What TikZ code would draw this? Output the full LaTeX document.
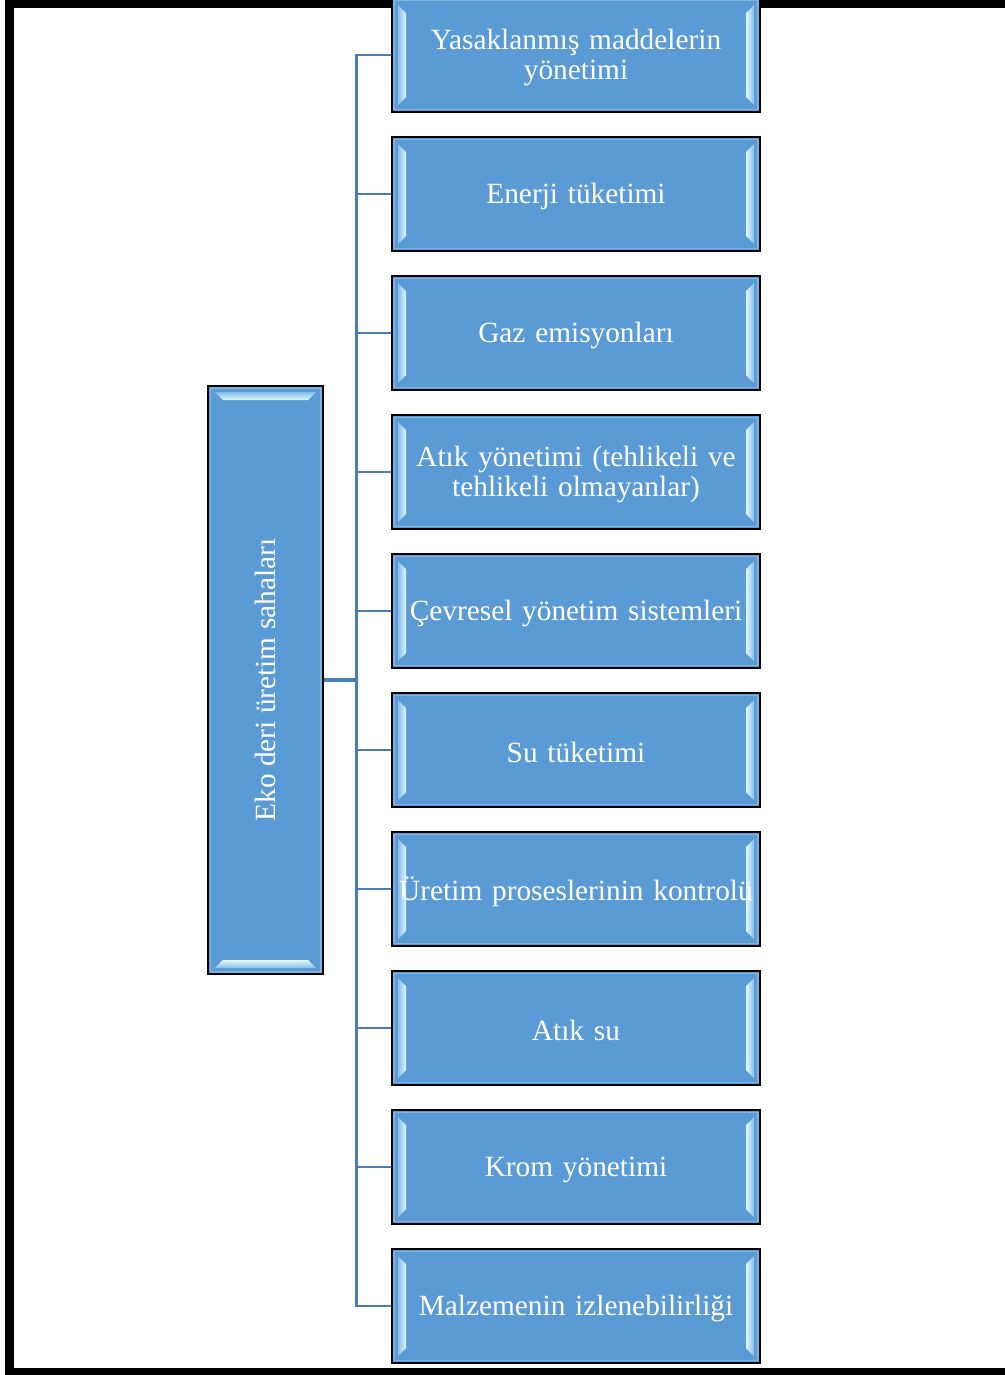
\documentclass[tikz,border=0pt]{standalone}
\usepackage{fontspec}
\setmainfont{Liberation Serif}
\usetikzlibrary{calc}

\definecolor{boxblue}{HTML}{5B9BD5}
\definecolor{linkblue}{HTML}{4A7DB4}
\definecolor{shine}{HTML}{E2F8FF}
\definecolor{shinelow}{HTML}{86BCE8}
\definecolor{rimblue}{HTML}{7FB3E2}

\tikzset{
  % one unit = one pixel, y grows downwards
  x=0.75pt, y=-0.75pt,
  frameline/.style={line width=6.6pt, black},
  link/.style={draw=linkblue, line width=2.2pt},
  hublink/.style={draw=linkblue, line width=3pt},
  boxtext/.style={text=white, inner sep=0pt, align=center,
    font=\fontsize{22}{22.5}\selectfont},
  bevelbox/.style={draw=black, line width=1.3pt, fill=boxblue, inner sep=0pt},
  % a horizontal box: its caption sits slightly below the centre
  topic/.style={bevelbox, minimum width=276pt, minimum height=85pt,
    label={[boxtext, text width=272pt, yshift=-2.2pt]center:#1},
    path picture={
      \draw[rimblue, line width=1.2pt]
        ($(path picture bounding box.north west)+(1.6pt,-1.6pt)$) rectangle
        ($(path picture bounding box.south east)+(-1.6pt,1.6pt)$);
      \fill[left color=shinelow, right color=shine]
        ($(path picture bounding box.north west)+(4.5pt,-5pt)$) --
        ($(path picture bounding box.north west)+(10.5pt,-11pt)$) --
        ($(path picture bounding box.south west)+(10.5pt,11pt)$) --
        ($(path picture bounding box.south west)+(4.5pt,5pt)$) -- cycle;
      \fill[left color=shine, right color=shinelow]
        ($(path picture bounding box.north east)+(-4.5pt,-5pt)$) --
        ($(path picture bounding box.north east)+(-10.5pt,-11pt)$) --
        ($(path picture bounding box.south east)+(-10.5pt,11pt)$) --
        ($(path picture bounding box.south east)+(-4.5pt,5pt)$) -- cycle;
    }},
  rootbox/.style={bevelbox, boxtext, minimum width=86pt, minimum height=441pt,
    path picture={
      \draw[rimblue, line width=1.2pt]
        ($(path picture bounding box.north west)+(1.6pt,-1.6pt)$) rectangle
        ($(path picture bounding box.south east)+(-1.6pt,1.6pt)$);
      \fill[top color=shinelow, bottom color=shine]
        ($(path picture bounding box.north west)+(5pt,-4.5pt)$) --
        ($(path picture bounding box.north west)+(11pt,-10.5pt)$) --
        ($(path picture bounding box.north east)+(-11pt,-10.5pt)$) --
        ($(path picture bounding box.north east)+(-5pt,-4.5pt)$) -- cycle;
      \fill[top color=shine, bottom color=shinelow]
        ($(path picture bounding box.south west)+(5pt,4.5pt)$) --
        ($(path picture bounding box.south west)+(11pt,10.5pt)$) --
        ($(path picture bounding box.south east)+(-11pt,10.5pt)$) --
        ($(path picture bounding box.south east)+(-5pt,4.5pt)$) -- cycle;
    }},
}

\begin{document}
\begin{tikzpicture}
\useasboundingbox (0,0) rectangle (1004,1375);

% page frame, open on the right
\draw[frameline] (1012,3.3) -- (9.5,3.3) -- (9.5,1372.5) -- (1012,1372.5);

% topic boxes
\node[topic={Yasaklanmış maddelerin\\yönetimi}] (b1) at (576,55) {};
\node[topic={Enerji tüketimi}] (b2) at (576,194) {};
\node[topic={Gaz emisyonları}] (b3) at (576,333) {};
\node[topic={Atık yönetimi (tehlikeli ve\\tehlikeli olmayanlar)}] (b4) at (576,472) {};
\node[topic={Çevresel yönetim sistemleri}] (b5) at (576,611) {};
\node[topic={Su tüketimi}] (b6) at (576,750) {};
\node[topic={Üretim proseslerinin kontrolü}] (b7) at (576,889) {};
\node[topic={Atık su}] (b8) at (576,1028) {};
\node[topic={Krom yönetimi}] (b9) at (576,1167) {};
\node[topic={Malzemenin izlenebilirliği}] (b10) at (576,1306) {};

% root box
\node[rootbox] (root) at (265.5,680) {\rotatebox{90}{Eko deri üretim sahaları}};

% connectors
\coordinate (hub) at ($(root.east)+(34,0)$);
\path[hublink] (root.east) -- (hub);
\path[link] (b1.west) -- ++(-35,0) |- (b10.west);
\foreach \i in {2,...,9} {
  \path[link] (b\i.west) -- ++(-35,0);
}
\end{tikzpicture}
\end{document}
